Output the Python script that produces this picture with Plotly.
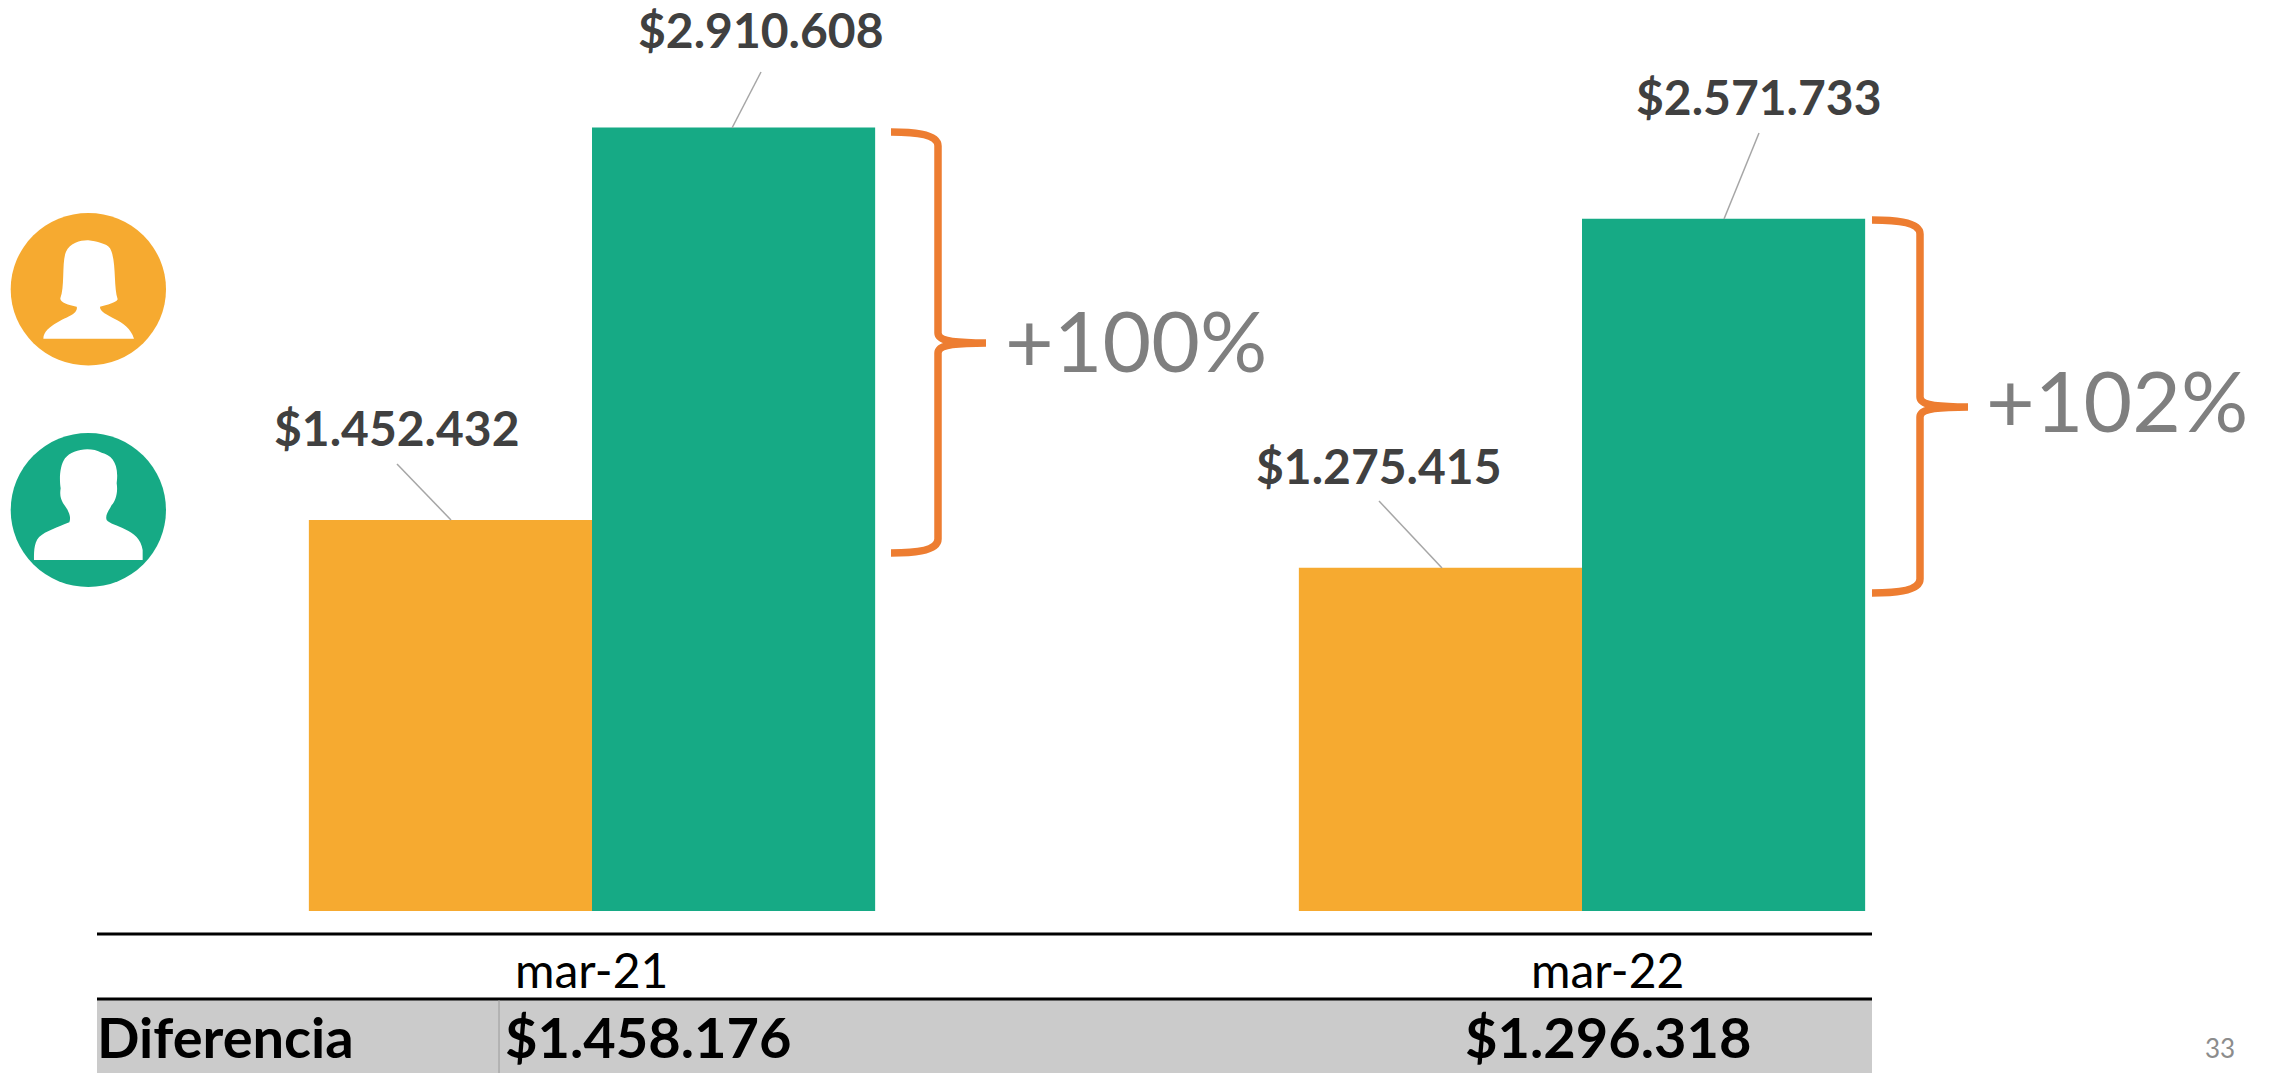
import plotly.graph_objects as go

categories = ["mar-21", "mar-22"]
mujeres = [1452432, 1275415]
hombres = [2910608, 2571733]
diferencia = [1458176, 1296318]
brecha = ["+100%", "+102%"]
fila = "Diferencia"
pagina = "33"

ORANGE, GREEN, BRACE = "#F6AA30", "#16AA85", "#ED7D31"
FONT = "Lato"
W, H = 2272, 1073
L, R_EDGE, BASE = 97, 2077, 911
YMAX = BASE / (783.5 / hombres[0])


def px(x):
    return (x - L) / (R_EDGE - L)


def py(y):
    return (BASE - y) / BASE


def money(v):
    return "$" + f"{v:,}".replace(",", ".")


def path(cmds):
    out = []
    for c in cmds:
        if isinstance(c, str):
            out.append(c)
        else:
            out.append(f"{px(c[0]):.5f},{py(c[1]):.5f}")
    return " ".join(out)


fig = go.Figure()
fig.add_bar(x=categories, y=mujeres, name="Mujeres", marker=dict(color=ORANGE, line_width=0))
fig.add_bar(x=categories, y=hombres, name="Hombres", marker=dict(color=GREEN, line_width=0))

shapes, notes = [], []


def rect(x0, y0, x1, y1, color):
    shapes.append(dict(type="rect", xref="paper", yref="paper", x0=px(x0), x1=px(x1), y0=py(y0), y1=py(y1),
                       fillcolor=color, line_width=0, layer="below"))


def line(x0, y0, x1, y1, color, width):
    shapes.append(dict(type="line", xref="paper", yref="paper", x0=px(x0), x1=px(x1), y0=py(y0), y1=py(y1),
                       line=dict(color=color, width=width)))


def text(s, x, y, size, color, bold=False, anchor="center"):
    notes.append(dict(text=f"<b>{s}</b>" if bold else s, xref="paper", yref="paper", x=px(x), y=py(y),
                      xanchor=anchor, yanchor="middle", showarrow=False,
                      font=dict(family=FONT, size=size, color=color)))


# table
rect(97, 1000, 1872, 1073, "#CBCBCB")
line(97, 934, 1872, 934, "#000000", 3)
line(97, 999, 1872, 999, "#000000", 3)
line(499, 1000, 499, 1073, "#9a9a9a", 1)
text(categories[0], 591, 970, 48, "#000000")
text(categories[1], 1607, 970, 48, "#000000")
text(fila, 95, 1036, 56, "#000000", True, "left")
text(money(diferencia[0]), 648, 1036, 56, "#000000", True)
text(money(diferencia[1]), 1608, 1036, 56, "#000000", True)
text(pagina, 2220, 1048, 26, "#8C8C8C")

# data labels and leaders
text(money(hombres[0]), 761, 30, 48, "#404040", True)
text(money(mujeres[0]), 397, 427, 48, "#404040", True)
text(money(mujeres[1]), 1379, 465, 48, "#404040", True)
text(money(hombres[1]), 1759, 96, 48, "#404040", True)
line(761, 72, 732, 128, "#A6A6A6", 1.5)
line(397, 464, 451, 520, "#A6A6A6", 1.5)
line(1379, 501, 1442, 568, "#A6A6A6", 1.5)
line(1759, 133, 1724, 219, "#A6A6A6", 1.5)


# braces
def brace(x0, xv, xt, y0, ym, y1):
    shapes.append(dict(type="path", xref="paper", yref="paper", line=dict(color=BRACE, width=7.5),
                       path=path(["M", (x0, y0), "C", (x0 + 18, y0), (xv, y0 + 1), (xv, y0 + 14),
                                  "L", (xv, ym - 10),
                                  "C", (xv, ym - 2), (xv + 16, ym), (xt, ym),
                                  "C", (xv + 16, ym), (xv, ym + 2), (xv, ym + 10),
                                  "L", (xv, y1 - 14),
                                  "C", (xv, y1 - 1), (x0 + 18, y1), (x0, y1)])))


brace(891, 938, 986, 132, 343, 553)
brace(1872, 1920, 1968, 220, 407, 593)
text(brecha[0], 1136, 339, 84, "#7F7F7F")
text(brecha[1], 2117, 400, 84, "#7F7F7F")


# avatars
def zx(x):
    return x / 3


def zy(y):
    return 190 + y / 3


def zpath(cmds):
    return path([c if isinstance(c, str) else (zx(c[0]), zy(c[1])) for c in cmds])


def circle(x0, y0, x1, y1, color):
    shapes.append(dict(type="circle", xref="paper", yref="paper", x0=px(x0), x1=px(x1), y0=py(y0), y1=py(y1),
                       fillcolor=color, line_width=0))


circle(10.7, 213, 166, 365.5, ORANGE)
circle(10.7, 433, 166, 587, GREEN)
female = ["M", (130, 446), "C", (132, 405), (205, 385), (222, 370), "C", (230, 362), (232, 355), (230, 350),
          "C", (205, 345), (180, 338), (181, 325), "C", (195, 290), (185, 215), (198, 185),
          "C", (210, 158), (245, 150), (265, 151), "C", (290, 155), (320, 160), (330, 175),
          "C", (350, 210), (340, 290), (353, 328), "C", (350, 338), (320, 345), (300, 350),
          "C", (298, 380), (385, 385), (402, 446), "Z"]
male = ["M", (102, 1110), "C", (102, 1080), (102, 1050), (125, 1035), "C", (150, 1018), (190, 1005), (208, 997),
        "C", (212, 985), (210, 975), (205, 965), "C", (198, 945), (175, 935), (182, 895),
        "C", (178, 870), (178, 830), (195, 805), "C", (215, 778), (270, 768), (305, 788),
        "C", (335, 795), (358, 820), (350, 880), "C", (355, 910), (345, 935), (335, 945),
        "C", (325, 965), (315, 975), (320, 990), "C", (335, 1010), (420, 1015), (428, 1080), "L", (428, 1110), "Z"]
for d in (female, male):
    shapes.append(dict(type="path", xref="paper", yref="paper", path=zpath(d), fillcolor="#FFFFFF", line_width=0))

fig.update_layout(
    width=W, height=H, autosize=False, showlegend=False, barmode="group", bargap=0.428, bargroupgap=0,
    paper_bgcolor="#FFFFFF", plot_bgcolor="rgba(0,0,0,0)",
    margin=dict(l=L, r=W - R_EDGE, t=0, b=H - BASE, pad=0),
    xaxis=dict(visible=False, type="category", range=[-0.5, 1.5]),
    yaxis=dict(visible=False, range=[0, YMAX]),
    shapes=shapes, annotations=notes, font=dict(family=FONT),
)
fig.write_html("out.html", config=dict(displayModeBar=False),
               post_script="document.body.style.margin='0';document.body.style.overflow='hidden';")
